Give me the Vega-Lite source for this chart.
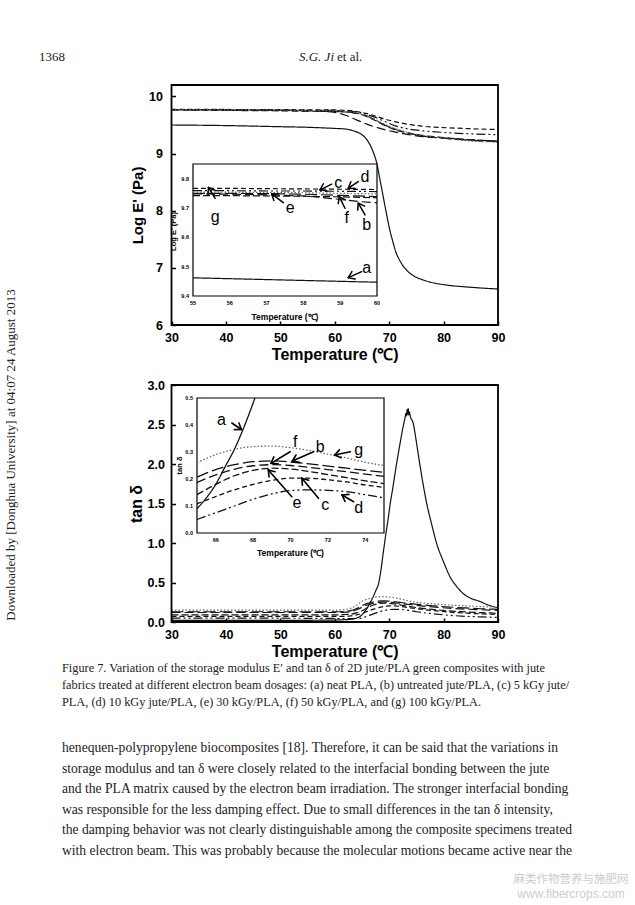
{
"$schema":"https://vega.github.io/schema/vega-lite/v6.json",
"width":635,"height":905,"autosize":"none","padding":0,"background":"white",
"config":{"view":{"stroke":null},"axis":{"grid":false,"domain":false,"tickColor":"black","labelColor":"black","titleColor":"black","labelFont":"Liberation Sans","titleFont":"Liberation Sans","labelFlush":false,"labelOverlap":false}},
"datasets":{
"E":[
{"s":"a","T":30,"v":9.50},{"s":"a","T":40,"v":9.49},{"s":"a","T":50,"v":9.47},{"s":"a","T":55,"v":9.46},{"s":"a","T":60,"v":9.44},{"s":"a","T":62,"v":9.43},{"s":"a","T":63,"v":9.41},{"s":"a","T":64,"v":9.38},{"s":"a","T":65,"v":9.33},{"s":"a","T":66,"v":9.23},{"s":"a","T":66.6,"v":9.13},{"s":"a","T":67.1,"v":9.02},{"s":"a","T":67.7,"v":8.84},{"s":"a","T":68.3,"v":8.55},{"s":"a","T":68.9,"v":8.25},{"s":"a","T":69.5,"v":7.95},{"s":"a","T":70.1,"v":7.67},{"s":"a","T":70.7,"v":7.45},{"s":"a","T":71.3,"v":7.26},{"s":"a","T":72,"v":7.12},{"s":"a","T":73.2,"v":6.96},{"s":"a","T":74.5,"v":6.86},{"s":"a","T":76.2,"v":6.79},{"s":"a","T":78,"v":6.74},{"s":"a","T":80.5,"v":6.70},{"s":"a","T":85,"v":6.66},{"s":"a","T":90,"v":6.63},
{"s":"b","T":30,"v":9.77},{"s":"b","T":40,"v":9.765},{"s":"b","T":50,"v":9.758},{"s":"b","T":55,"v":9.748},{"s":"b","T":58,"v":9.738},{"s":"b","T":60,"v":9.72},{"s":"b","T":62,"v":9.67},{"s":"b","T":64,"v":9.59},{"s":"b","T":66,"v":9.51},{"s":"b","T":68,"v":9.45},{"s":"b","T":70,"v":9.40},{"s":"b","T":72,"v":9.36},{"s":"b","T":75,"v":9.31},{"s":"b","T":80,"v":9.27},{"s":"b","T":85,"v":9.24},{"s":"b","T":90,"v":9.22},
{"s":"c","T":30,"v":9.775},{"s":"c","T":40,"v":9.772},{"s":"c","T":50,"v":9.769},{"s":"c","T":55,"v":9.766},{"s":"c","T":60,"v":9.763},{"s":"c","T":63,"v":9.75},{"s":"c","T":65,"v":9.72},{"s":"c","T":67,"v":9.67},{"s":"c","T":69,"v":9.61},{"s":"c","T":71,"v":9.56},{"s":"c","T":73,"v":9.52},{"s":"c","T":76,"v":9.48},{"s":"c","T":80,"v":9.455},{"s":"c","T":85,"v":9.435},{"s":"c","T":90,"v":9.42},
{"s":"d","T":30,"v":9.77},{"s":"d","T":40,"v":9.767},{"s":"d","T":50,"v":9.762},{"s":"d","T":55,"v":9.758},{"s":"d","T":60,"v":9.755},{"s":"d","T":63,"v":9.74},{"s":"d","T":65,"v":9.71},{"s":"d","T":67,"v":9.65},{"s":"d","T":69,"v":9.57},{"s":"d","T":71,"v":9.49},{"s":"d","T":73,"v":9.44},{"s":"d","T":76,"v":9.40},{"s":"d","T":80,"v":9.37},{"s":"d","T":85,"v":9.345},{"s":"d","T":90,"v":9.33},
{"s":"e","T":30,"v":9.765},{"s":"e","T":40,"v":9.755},{"s":"e","T":50,"v":9.748},{"s":"e","T":55,"v":9.742},{"s":"e","T":60,"v":9.736},{"s":"e","T":63,"v":9.72},{"s":"e","T":65,"v":9.68},{"s":"e","T":67,"v":9.60},{"s":"e","T":69,"v":9.50},{"s":"e","T":71,"v":9.42},{"s":"e","T":73,"v":9.37},{"s":"e","T":76,"v":9.32},{"s":"e","T":80,"v":9.28},{"s":"e","T":85,"v":9.24},{"s":"e","T":90,"v":9.22},
{"s":"f","T":30,"v":9.768},{"s":"f","T":40,"v":9.762},{"s":"f","T":50,"v":9.756},{"s":"f","T":55,"v":9.75},{"s":"f","T":60,"v":9.74},{"s":"f","T":63,"v":9.72},{"s":"f","T":65,"v":9.685},{"s":"f","T":67,"v":9.61},{"s":"f","T":69,"v":9.51},{"s":"f","T":71,"v":9.43},{"s":"f","T":73,"v":9.37},{"s":"f","T":76,"v":9.31},{"s":"f","T":80,"v":9.27},{"s":"f","T":85,"v":9.23},{"s":"f","T":90,"v":9.21},
{"s":"g","T":30,"v":9.77},{"s":"g","T":40,"v":9.765},{"s":"g","T":50,"v":9.76},{"s":"g","T":55,"v":9.753},{"s":"g","T":60,"v":9.748},{"s":"g","T":63,"v":9.73},{"s":"g","T":65,"v":9.69},{"s":"g","T":67,"v":9.62},{"s":"g","T":69,"v":9.52},{"s":"g","T":71,"v":9.44},{"s":"g","T":73,"v":9.38},{"s":"g","T":76,"v":9.32},{"s":"g","T":80,"v":9.27},{"s":"g","T":85,"v":9.22},{"s":"g","T":90,"v":9.20}
],
"Ein":[
{"s":"a","T":55,"v":9.462},{"s":"a","T":56,"v":9.459},{"s":"a","T":57,"v":9.456},{"s":"a","T":58,"v":9.453},{"s":"a","T":59,"v":9.450},{"s":"a","T":60,"v":9.447},
{"s":"b","T":55,"v":9.748},{"s":"b","T":56,"v":9.747},{"s":"b","T":57,"v":9.745},{"s":"b","T":58,"v":9.741},{"s":"b","T":58.5,"v":9.736},{"s":"b","T":59,"v":9.729},{"s":"b","T":59.5,"v":9.722},{"s":"b","T":60,"v":9.718},
{"s":"c","T":55,"v":9.767},{"s":"c","T":56,"v":9.767},{"s":"c","T":57,"v":9.766},{"s":"c","T":58,"v":9.765},{"s":"c","T":59,"v":9.764},{"s":"c","T":60,"v":9.763},
{"s":"d","T":55,"v":9.759},{"s":"d","T":56,"v":9.759},{"s":"d","T":57,"v":9.758},{"s":"d","T":58,"v":9.758},{"s":"d","T":59,"v":9.757},{"s":"d","T":60,"v":9.756},
{"s":"e","T":55,"v":9.742},{"s":"e","T":56,"v":9.742},{"s":"e","T":57,"v":9.741},{"s":"e","T":58,"v":9.740},{"s":"e","T":59,"v":9.738},{"s":"e","T":60,"v":9.735},
{"s":"f","T":55,"v":9.750},{"s":"f","T":56,"v":9.750},{"s":"f","T":57,"v":9.749},{"s":"f","T":58,"v":9.747},{"s":"f","T":59,"v":9.743},{"s":"f","T":60,"v":9.739},
{"s":"g","T":55,"v":9.754},{"s":"g","T":56,"v":9.754},{"s":"g","T":57,"v":9.753},{"s":"g","T":58,"v":9.752},{"s":"g","T":59,"v":9.750},{"s":"g","T":60,"v":9.748}
],
"tan":[
{"s":"a","T":30,"v":0.02},{"s":"a","T":40,"v":0.02},{"s":"a","T":50,"v":0.02},{"s":"a","T":60,"v":0.025},{"s":"a","T":62,"v":0.03},{"s":"a","T":63,"v":0.035},{"s":"a","T":64,"v":0.05},{"s":"a","T":65,"v":0.09},{"s":"a","T":65.5,"v":0.13},{"s":"a","T":66,"v":0.18},{"s":"a","T":66.5,"v":0.245},{"s":"a","T":67,"v":0.31},{"s":"a","T":67.5,"v":0.39},{"s":"a","T":68.1,"v":0.5},{"s":"a","T":68.5,"v":0.66},{"s":"a","T":68.9,"v":0.87},{"s":"a","T":69.3,"v":1.07},{"s":"a","T":69.8,"v":1.30},{"s":"a","T":70.2,"v":1.50},{"s":"a","T":70.7,"v":1.71},{"s":"a","T":71.4,"v":2.02},{"s":"a","T":72,"v":2.26},{"s":"a","T":72.5,"v":2.45},{"s":"a","T":72.9,"v":2.58},{"s":"a","T":73.1,"v":2.64},{"s":"a","T":73.2,"v":2.61},{"s":"a","T":73.3,"v":2.69},{"s":"a","T":73.4,"v":2.63},{"s":"a","T":73.5,"v":2.70},{"s":"a","T":73.6,"v":2.62},{"s":"a","T":73.7,"v":2.66},{"s":"a","T":73.9,"v":2.60},{"s":"a","T":74.4,"v":2.52},{"s":"a","T":75,"v":2.28},{"s":"a","T":75.6,"v":2.01},{"s":"a","T":76.2,"v":1.76},{"s":"a","T":76.9,"v":1.50},{"s":"a","T":77.8,"v":1.24},{"s":"a","T":78.7,"v":1.0},{"s":"a","T":80,"v":0.76},{"s":"a","T":81.2,"v":0.57},{"s":"a","T":82.4,"v":0.45},{"s":"a","T":83.6,"v":0.36},{"s":"a","T":85,"v":0.30},{"s":"a","T":86.7,"v":0.26},{"s":"a","T":88,"v":0.22},{"s":"a","T":90,"v":0.18},
{"s":"g","T":30,"v":0.15},{"s":"g","T":40,"v":0.15},{"s":"g","T":50,"v":0.15},{"s":"g","T":60,"v":0.15},{"s":"g","T":62,"v":0.16},{"s":"g","T":63,"v":0.175},{"s":"g","T":64,"v":0.21},{"s":"g","T":65,"v":0.26},{"s":"g","T":66,"v":0.29},{"s":"g","T":67,"v":0.31},{"s":"g","T":68,"v":0.32},{"s":"g","T":69,"v":0.322},{"s":"g","T":70,"v":0.316},{"s":"g","T":71,"v":0.306},{"s":"g","T":72,"v":0.292},{"s":"g","T":73,"v":0.278},{"s":"g","T":74,"v":0.262},{"s":"g","T":75,"v":0.25},{"s":"g","T":78,"v":0.23},{"s":"g","T":81,"v":0.215},{"s":"g","T":84,"v":0.205},{"s":"g","T":87,"v":0.195},{"s":"g","T":90,"v":0.19},
{"s":"f","T":30,"v":0.13},{"s":"f","T":40,"v":0.13},{"s":"f","T":50,"v":0.13},{"s":"f","T":60,"v":0.13},{"s":"f","T":62,"v":0.135},{"s":"f","T":63,"v":0.145},{"s":"f","T":64,"v":0.17},{"s":"f","T":65,"v":0.207},{"s":"f","T":66,"v":0.235},{"s":"f","T":67,"v":0.253},{"s":"f","T":68,"v":0.264},{"s":"f","T":69,"v":0.267},{"s":"f","T":70,"v":0.263},{"s":"f","T":71,"v":0.256},{"s":"f","T":72,"v":0.248},{"s":"f","T":73,"v":0.24},{"s":"f","T":74,"v":0.232},{"s":"f","T":75,"v":0.225},{"s":"f","T":78,"v":0.205},{"s":"f","T":81,"v":0.19},{"s":"f","T":84,"v":0.178},{"s":"f","T":87,"v":0.168},{"s":"f","T":90,"v":0.16},
{"s":"b","T":30,"v":0.12},{"s":"b","T":40,"v":0.12},{"s":"b","T":50,"v":0.12},{"s":"b","T":60,"v":0.12},{"s":"b","T":62,"v":0.125},{"s":"b","T":63,"v":0.132},{"s":"b","T":64,"v":0.155},{"s":"b","T":65,"v":0.187},{"s":"b","T":66,"v":0.215},{"s":"b","T":67,"v":0.236},{"s":"b","T":68,"v":0.249},{"s":"b","T":69,"v":0.253},{"s":"b","T":70,"v":0.25},{"s":"b","T":71,"v":0.243},{"s":"b","T":72,"v":0.235},{"s":"b","T":73,"v":0.227},{"s":"b","T":74,"v":0.218},{"s":"b","T":75,"v":0.21},{"s":"b","T":78,"v":0.19},{"s":"b","T":81,"v":0.175},{"s":"b","T":84,"v":0.163},{"s":"b","T":87,"v":0.155},{"s":"b","T":90,"v":0.148},
{"s":"e","T":30,"v":0.09},{"s":"e","T":40,"v":0.09},{"s":"e","T":50,"v":0.09},{"s":"e","T":60,"v":0.09},{"s":"e","T":62,"v":0.095},{"s":"e","T":63,"v":0.10},{"s":"e","T":64,"v":0.115},{"s":"e","T":65,"v":0.142},{"s":"e","T":66,"v":0.18},{"s":"e","T":67,"v":0.212},{"s":"e","T":68,"v":0.232},{"s":"e","T":69,"v":0.24},{"s":"e","T":70,"v":0.237},{"s":"e","T":71,"v":0.228},{"s":"e","T":72,"v":0.216},{"s":"e","T":73,"v":0.205},{"s":"e","T":74,"v":0.193},{"s":"e","T":75,"v":0.183},{"s":"e","T":78,"v":0.16},{"s":"e","T":81,"v":0.14},{"s":"e","T":84,"v":0.128},{"s":"e","T":87,"v":0.118},{"s":"e","T":90,"v":0.11},
{"s":"c","T":30,"v":0.07},{"s":"c","T":40,"v":0.07},{"s":"c","T":50,"v":0.07},{"s":"c","T":60,"v":0.07},{"s":"c","T":62,"v":0.072},{"s":"c","T":63,"v":0.078},{"s":"c","T":64,"v":0.09},{"s":"c","T":65,"v":0.108},{"s":"c","T":66,"v":0.135},{"s":"c","T":67,"v":0.16},{"s":"c","T":68,"v":0.18},{"s":"c","T":69,"v":0.195},{"s":"c","T":70,"v":0.203},{"s":"c","T":71,"v":0.203},{"s":"c","T":72,"v":0.197},{"s":"c","T":73,"v":0.189},{"s":"c","T":74,"v":0.178},{"s":"c","T":75,"v":0.169},{"s":"c","T":78,"v":0.145},{"s":"c","T":81,"v":0.125},{"s":"c","T":84,"v":0.112},{"s":"c","T":87,"v":0.103},{"s":"c","T":90,"v":0.095},
{"s":"d","T":30,"v":0.05},{"s":"d","T":40,"v":0.05},{"s":"d","T":50,"v":0.048},{"s":"d","T":60,"v":0.045},{"s":"d","T":62,"v":0.042},{"s":"d","T":63,"v":0.042},{"s":"d","T":64,"v":0.045},{"s":"d","T":65,"v":0.05},{"s":"d","T":66,"v":0.075},{"s":"d","T":67,"v":0.10},{"s":"d","T":68,"v":0.125},{"s":"d","T":69,"v":0.145},{"s":"d","T":70,"v":0.157},{"s":"d","T":71,"v":0.16},{"s":"d","T":72,"v":0.158},{"s":"d","T":73,"v":0.153},{"s":"d","T":74,"v":0.142},{"s":"d","T":75,"v":0.13},{"s":"d","T":78,"v":0.105},{"s":"d","T":81,"v":0.085},{"s":"d","T":84,"v":0.072},{"s":"d","T":87,"v":0.064},{"s":"d","T":90,"v":0.058}
],
"arrTop":[
{"x":55.60,"y":9.733,"x2":55.42,"y2":9.770},{"x":55.42,"y":9.770,"x2":55.407,"y2":9.7458},{"x":55.42,"y":9.770,"x2":55.591,"y2":9.7604},
{"x":57.454,"y":9.7184,"x2":57.139,"y2":9.748},{"x":57.139,"y":9.748,"x2":57.198,"y2":9.7254},{"x":57.139,"y":9.748,"x2":57.329,"y2":9.7474},
{"x":58.769,"y":9.7812,"x2":58.451,"y2":9.7618},{"x":58.451,"y":9.7618,"x2":58.639,"y2":9.758},{"x":58.451,"y":9.7618,"x2":58.543,"y2":9.7827},
{"x":59.492,"y":9.7901,"x2":59.220,"y2":9.7676},{"x":59.220,"y":9.7676,"x2":59.410,"y2":9.7669},{"x":59.220,"y":9.7676,"x2":59.290,"y2":9.7898},
{"x":59.130,"y":9.6993,"x2":58.976,"y2":9.7389},{"x":58.976,"y":9.7389,"x2":58.946,"y2":9.7153},{"x":58.976,"y":9.7389,"x2":59.142,"y2":9.7274},
{"x":59.674,"y":9.6765,"x2":59.492,"y2":9.7164},{"x":59.492,"y":9.7164,"x2":59.475,"y2":9.6926},{"x":59.492,"y":9.7164,"x2":59.664,"y2":9.7062},
{"x":59.584,"y":9.4829,"x2":59.220,"y2":9.4625},{"x":59.220,"y":9.4625,"x2":59.407,"y2":9.4580},{"x":59.220,"y":9.4625,"x2":59.318,"y2":9.4830}
],
"labTop":[
{"t":"g","T":55.60,"v":9.671},{"t":"e","T":57.64,"v":9.699},{"t":"c","T":58.95,"v":9.785},{"t":"d","T":59.67,"v":9.807},{"t":"f","T":59.18,"v":9.665},{"t":"b","T":59.72,"v":9.642},{"t":"a","T":59.72,"v":9.495}
],
"arrBot":[
{"x":66.864,"y":0.4074,"x2":67.374,"y2":0.3833},{"x":67.374,"y":0.3833,"x2":67.242,"y2":0.4076},{"x":67.374,"y":0.3833,"x2":66.998,"y2":0.3830},
{"x":69.979,"y":0.3011,"x2":68.958,"y2":0.2581},{"x":68.958,"y":0.2581,"x2":69.334,"y2":0.2565},{"x":68.958,"y":0.2581,"x2":69.109,"y2":0.2819},
{"x":71.230,"y":0.3011,"x2":70.102,"y2":0.2667},{"x":70.102,"y":0.2667,"x2":70.471,"y2":0.2617},{"x":70.102,"y":0.2667,"x2":70.296,"y2":0.2889},
{"x":73.201,"y":0.3011,"x2":72.358,"y2":0.2889},{"x":72.358,"y":0.2889,"x2":72.704,"y2":0.2787},{"x":72.358,"y":0.2889,"x2":72.615,"y2":0.3079},
{"x":70.070,"y":0.1344,"x2":68.813,"y2":0.2333},{"x":68.813,"y":0.2333,"x2":68.854,"y2":0.2076},{"x":68.813,"y":0.2333,"x2":69.178,"y2":0.2271},
{"x":71.498,"y":0.1285,"x2":70.607,"y2":0.2026},{"x":70.607,"y":0.2026,"x2":70.637,"y2":0.1767},{"x":70.607,"y":0.2026,"x2":70.970,"y2":0.1957},
{"x":73.378,"y":0.1159,"x2":72.755,"y2":0.1407},{"x":72.755,"y":0.1407,"x2":72.914,"y2":0.1172},{"x":72.755,"y":0.1407,"x2":73.129,"y2":0.1430}
],
"labBot":[
{"t":"a","T":66.31,"v":0.4185},{"t":"f","T":70.25,"v":0.338},{"t":"b","T":71.59,"v":0.3196},{"t":"g","T":73.65,"v":0.3074},{"t":"e","T":70.34,"v":0.11},{"t":"c","T":71.86,"v":0.1037},{"t":"d","T":73.65,"v":0.0915}
],
"caption":[
{"line":1,"t":"Figure 7.   Variation of the storage modulus E′ and tan δ of 2D jute/PLA green composites with jute"},
{"line":2,"t":"fabrics treated at different electron beam dosages: (a) neat PLA, (b) untreated jute/PLA, (c) 5 kGy jute/"},
{"line":3,"t":"PLA, (d) 10 kGy jute/PLA, (e) 30 kGy/PLA, (f) 50 kGy/PLA, and (g) 100 kGy/PLA."}
],
"body":[
{"line":1,"t":"henequen-polypropylene biocomposites [18]. Therefore, it can be said that the variations in"},
{"line":2,"t":"storage modulus and tan δ were closely related to the interfacial bonding between the jute"},
{"line":3,"t":"and the PLA matrix caused by the electron beam irradiation. The stronger interfacial bonding"},
{"line":4,"t":"was responsible for the less damping effect. Due to small differences in the tan δ intensity,"},
{"line":5,"t":"the damping behavior was not clearly distinguishable among the composite specimens treated"},
{"line":6,"t":"with electron beam. This was probably because the molecular motions became active near the"}
]
},
"layer":[
 {"data":{"name":"E"},
  "mark":{"type":"line","interpolate":"monotone","strokeWidth":1.2},
  "encoding":{
   "x":{"field":"T","type":"quantitative","scale":{"domain":[30,90],"range":[171.5,498]},
        "axis":{"orient":"bottom","offset":-580,"values":[30,40,50,60,70,80,90],"title":"Temperature (℃)","labelFontSize":12.5,"labelFontWeight":"bold","titleFontSize":16,"titleFontWeight":"bold","tickSize":-4,"tickWidth":1.5,"labelPadding":10,"titlePadding":3}},
   "y":{"field":"v","type":"quantitative","scale":{"domain":[6,10.2],"range":[325,85]},
        "axis":{"orient":"left","offset":-171.5,"values":[6,7,8,9,10],"title":"Log E' (Pa)","labelFontSize":12.5,"labelFontWeight":"bold","titleFontSize":15,"titleFontWeight":"bold","tickSize":-4,"tickWidth":1.5,"labelPadding":13,"titlePadding":3}},
   "strokeDash":{"field":"s","type":"nominal","legend":null,"scale":{"domain":["a","b","c","d","e","f","g"],"range":[[1,0],[9,4],[5,3],[9,3,2,3,2,3],[7,3],[12,4],[1.5,2]]}},
   "color":{"field":"s","type":"nominal","legend":null,"scale":{"domain":["a","b","c","d","e","f","g"],"range":["#111","#111","#111","#111","#111","#111","#666"]}}
  }},
 {"data":{"values":[{}]},
  "mark":{"type":"rect","filled":false,"stroke":"black","strokeWidth":1.8},
  "encoding":{"x":{"datum":30,"type":"quantitative","scale":{"domain":[30,90],"range":[171.5,498]},"axis":null},"x2":{"datum":90},"y":{"datum":6,"type":"quantitative","scale":{"domain":[6,10.2],"range":[325,85]},"axis":null},"y2":{"datum":10.2}}},
 {"data":{"values":[{}]},
  "mark":{"type":"rect","fill":"white","stroke":"black","strokeWidth":1.2},
  "encoding":{"x":{"datum":55,"type":"quantitative","scale":{"domain":[55,60],"range":[193,377]},"axis":null},"x2":{"datum":60},"y":{"datum":9.4,"type":"quantitative","scale":{"domain":[9.4,9.85],"range":[296,164]},"axis":null},"y2":{"datum":9.85}}},
 {"data":{"name":"Ein"},
  "mark":{"type":"line","strokeWidth":1.2},
  "encoding":{
   "x":{"field":"T","type":"quantitative","scale":{"domain":[55,60],"range":[193,377]},"axis":null},
   "y":{"field":"v","type":"quantitative","scale":{"domain":[9.4,9.85],"range":[296,164]},"axis":null},
   "strokeDash":{"field":"s","type":"nominal","legend":null,"scale":{"domain":["a","b","c","d","e","f","g"],"range":[[1,0],[9,4],[5,3],[9,3,2,3,2,3],[7,3],[12,4],[1.5,2]]}},
   "color":{"field":"s","type":"nominal","legend":null,"scale":{"domain":["a","b","c","d","e","f","g"],"range":["#111","#111","#111","#111","#111","#111","#666"]}}
  }},
 {"data":{"name":"arrTop"},
  "mark":{"type":"rule","color":"black","strokeWidth":1.5,"strokeCap":"round"},
  "encoding":{"x":{"field":"x","type":"quantitative","scale":{"domain":[55,60],"range":[193,377]},"axis":null},"y":{"field":"y","type":"quantitative","scale":{"domain":[9.4,9.85],"range":[296,164]},"axis":null},"x2":{"field":"x2"},"y2":{"field":"y2"}}},
 {"data":{"name":"labTop"},
  "mark":{"type":"text","font":"Liberation Sans","fontSize":16,"color":"black","align":"center","baseline":"middle"},
  "encoding":{"x":{"field":"T","type":"quantitative","scale":{"domain":[55,60],"range":[193,377]},"axis":null},"y":{"field":"v","type":"quantitative","scale":{"domain":[9.4,9.85],"range":[296,164]},"axis":null},"text":{"field":"t"}}},
 {"data":{"values":[{"T":55},{"T":56},{"T":57},{"T":58},{"T":59},{"T":60}]},
  "mark":{"type":"text","font":"Liberation Sans","fontSize":5.5,"fontWeight":"bold","color":"black","align":"center","baseline":"middle","dy":7},
  "encoding":{"x":{"field":"T","type":"quantitative","scale":{"domain":[55,60],"range":[193,377]},"axis":null},"y":{"datum":9.4,"type":"quantitative","scale":{"domain":[9.4,9.85],"range":[296,164]},"axis":null},"text":{"field":"T","type":"quantitative"}}},
 {"data":{"values":[{"v":9.4},{"v":9.5},{"v":9.6},{"v":9.7},{"v":9.8}]},
  "mark":{"type":"text","font":"Liberation Sans","fontSize":5.5,"fontWeight":"bold","color":"black","align":"right","baseline":"middle","dx":-4},
  "encoding":{"x":{"datum":55,"type":"quantitative","scale":{"domain":[55,60],"range":[193,377]},"axis":null},"y":{"field":"v","type":"quantitative","scale":{"domain":[9.4,9.85],"range":[296,164]},"axis":null},"text":{"field":"v","type":"quantitative","format":".1f"}}},
 {"data":{"values":[{"t":"Temperature (℃)"}]},
  "mark":{"type":"text","font":"Liberation Sans","fontSize":8.5,"fontWeight":"bold","color":"black","align":"center","baseline":"middle","dy":21},
  "encoding":{"x":{"datum":57.5,"type":"quantitative","scale":{"domain":[55,60],"range":[193,377]},"axis":null},"y":{"datum":9.4,"type":"quantitative","scale":{"domain":[9.4,9.85],"range":[296,164]},"axis":null},"text":{"field":"t"}}},
 {"data":{"values":[{"t":"Log E' (Pa)"}]},
  "mark":{"type":"text","font":"Liberation Sans","fontSize":7.5,"fontWeight":"bold","color":"black","align":"center","baseline":"middle","angle":270,"dy":-19},
  "encoding":{"x":{"datum":55,"type":"quantitative","scale":{"domain":[55,60],"range":[193,377]},"axis":null},"y":{"datum":9.62,"type":"quantitative","scale":{"domain":[9.4,9.85],"range":[296,164]},"axis":null},"text":{"field":"t"}}},
 {"data":{"name":"tan"},
  "mark":{"type":"line","interpolate":"monotone","strokeWidth":1.2},
  "encoding":{
   "x":{"field":"T","type":"quantitative","scale":{"domain":[30,90],"range":[171.5,498]},
        "axis":{"orient":"bottom","offset":-283,"values":[30,40,50,60,70,80,90],"title":"Temperature (℃)","labelFontSize":12.5,"labelFontWeight":"bold","titleFontSize":16,"titleFontWeight":"bold","tickSize":-4,"tickWidth":1.5,"labelPadding":10,"titlePadding":3}},
   "y":{"field":"v","type":"quantitative","scale":{"domain":[0,3],"range":[622,385]},
        "axis":{"orient":"left","offset":-171.5,"values":[0,0.5,1,1.5,2,2.5,3],"format":".1f","title":"tan δ","labelFontSize":12.5,"labelFontWeight":"bold","titleFontSize":16,"titleFontWeight":"bold","tickSize":-4,"tickWidth":1.5,"labelPadding":11,"titlePadding":3}},
   "strokeDash":{"field":"s","type":"nominal","legend":null,"scale":{"domain":["a","b","c","d","e","f","g"],"range":[[1,0],[9,4],[5,3],[9,3,2,3,2,3],[7,3],[12,4],[1.5,2]]}},
   "color":{"field":"s","type":"nominal","legend":null,"scale":{"domain":["a","b","c","d","e","f","g"],"range":["#111","#111","#111","#111","#111","#111","#666"]}}
  }},
 {"data":{"values":[{}]},
  "mark":{"type":"rect","filled":false,"stroke":"black","strokeWidth":1.8},
  "encoding":{"x":{"datum":30,"type":"quantitative","scale":{"domain":[30,90],"range":[171.5,498]},"axis":null},"x2":{"datum":90},"y":{"datum":0,"type":"quantitative","scale":{"domain":[0,3],"range":[622,385]},"axis":null},"y2":{"datum":3}}},
 {"data":{"values":[{}]},
  "mark":{"type":"rect","fill":"white","stroke":"black","strokeWidth":1.2},
  "encoding":{"x":{"datum":65,"type":"quantitative","scale":{"domain":[65,75],"range":[197,384]},"axis":null},"x2":{"datum":75},"y":{"datum":0,"type":"quantitative","scale":{"domain":[0,0.5],"range":[533,398]},"axis":null},"y2":{"datum":0.5}}},
 {"data":{"name":"tan"},
  "transform":[{"filter":"datum.T >= 65 && datum.T <= 75 && datum.v <= 0.5"}],
  "mark":{"type":"line","interpolate":"monotone","strokeWidth":1.3},
  "encoding":{
   "x":{"field":"T","type":"quantitative","scale":{"domain":[65,75],"range":[197,384]},"axis":null},
   "y":{"field":"v","type":"quantitative","scale":{"domain":[0,0.5],"range":[533,398]},"axis":null},
   "strokeDash":{"field":"s","type":"nominal","legend":null,"scale":{"domain":["a","b","c","d","e","f","g"],"range":[[1,0],[9,4],[5,3],[9,3,2,3,2,3],[7,3],[12,4],[1.5,2]]}},
   "color":{"field":"s","type":"nominal","legend":null,"scale":{"domain":["a","b","c","d","e","f","g"],"range":["#111","#111","#111","#111","#111","#111","#666"]}}
  }},
 {"data":{"name":"arrBot"},
  "mark":{"type":"rule","color":"black","strokeWidth":1.6,"strokeCap":"round"},
  "encoding":{"x":{"field":"x","type":"quantitative","scale":{"domain":[65,75],"range":[197,384]},"axis":null},"y":{"field":"y","type":"quantitative","scale":{"domain":[0,0.5],"range":[533,398]},"axis":null},"x2":{"field":"x2"},"y2":{"field":"y2"}}},
 {"data":{"name":"labBot"},
  "mark":{"type":"text","font":"Liberation Sans","fontSize":16,"color":"black","align":"center","baseline":"middle"},
  "encoding":{"x":{"field":"T","type":"quantitative","scale":{"domain":[65,75],"range":[197,384]},"axis":null},"y":{"field":"v","type":"quantitative","scale":{"domain":[0,0.5],"range":[533,398]},"axis":null},"text":{"field":"t"}}},
 {"data":{"values":[{"T":66},{"T":68},{"T":70},{"T":72},{"T":74}]},
  "mark":{"type":"text","font":"Liberation Sans","fontSize":5.5,"fontWeight":"bold","color":"black","align":"center","baseline":"middle","dy":7},
  "encoding":{"x":{"field":"T","type":"quantitative","scale":{"domain":[65,75],"range":[197,384]},"axis":null},"y":{"datum":0,"type":"quantitative","scale":{"domain":[0,0.5],"range":[533,398]},"axis":null},"text":{"field":"T","type":"quantitative"}}},
 {"data":{"values":[{"v":0},{"v":0.1},{"v":0.2},{"v":0.3},{"v":0.4},{"v":0.5}]},
  "mark":{"type":"text","font":"Liberation Sans","fontSize":5.5,"fontWeight":"bold","color":"black","align":"right","baseline":"middle","dx":-4},
  "encoding":{"x":{"datum":65,"type":"quantitative","scale":{"domain":[65,75],"range":[197,384]},"axis":null},"y":{"field":"v","type":"quantitative","scale":{"domain":[0,0.5],"range":[533,398]},"axis":null},"text":{"field":"v","type":"quantitative","format":".1f"}}},
 {"data":{"values":[{"t":"Temperature (℃)"}]},
  "mark":{"type":"text","font":"Liberation Sans","fontSize":8.5,"fontWeight":"bold","color":"black","align":"center","baseline":"middle","dy":20},
  "encoding":{"x":{"datum":70,"type":"quantitative","scale":{"domain":[65,75],"range":[197,384]},"axis":null},"y":{"datum":0,"type":"quantitative","scale":{"domain":[0,0.5],"range":[533,398]},"axis":null},"text":{"field":"t"}}},
 {"data":{"values":[{"t":"tan δ"}]},
  "mark":{"type":"text","font":"Liberation Sans","fontSize":7.5,"fontWeight":"bold","color":"black","align":"center","baseline":"middle","angle":270,"dy":-17},
  "encoding":{"x":{"datum":65,"type":"quantitative","scale":{"domain":[65,75],"range":[197,384]},"axis":null},"y":{"datum":0.25,"type":"quantitative","scale":{"domain":[0,0.5],"range":[533,398]},"axis":null},"text":{"field":"t"}}},
 {"data":{"values":[{"t":"1368"}]},"mark":{"type":"text","font":"Liberation Serif","fontSize":13,"align":"center","baseline":"middle","x":52,"y":57,"color":"#222"},"encoding":{"text":{"field":"t"}}},
 {"data":{"values":[{"t":"S.G. Ji"}]},"mark":{"type":"text","font":"Liberation Serif","fontStyle":"italic","fontSize":13,"align":"right","baseline":"middle","x":334,"y":57,"color":"#222"},"encoding":{"text":{"field":"t"}}},
 {"data":{"values":[{"t":"et al."}]},"mark":{"type":"text","font":"Liberation Serif","fontSize":13,"align":"left","baseline":"middle","x":337,"y":57,"color":"#222"},"encoding":{"text":{"field":"t"}}},
 {"data":{"values":[{"t":"Downloaded by [Donghua University] at 04:07 24 August 2013"}]},"mark":{"type":"text","font":"Liberation Serif","fontSize":13,"align":"center","baseline":"middle","angle":270,"x":11,"y":455,"color":"#222"},"encoding":{"text":{"field":"t"}}},
 {"data":{"name":"caption"},"mark":{"type":"text","font":"Liberation Serif","fontSize":12.3,"align":"left","baseline":"middle","x":62,"color":"#222"},
  "encoding":{"y":{"field":"line","type":"quantitative","scale":{"domain":[1,3],"range":[668,702]},"axis":null},"text":{"field":"t"}}},
 {"data":{"name":"body"},"mark":{"type":"text","font":"Liberation Serif","fontSize":13.6,"align":"left","baseline":"middle","x":62,"color":"#222"},
  "encoding":{"y":{"field":"line","type":"quantitative","scale":{"domain":[1,6],"range":[748,851]},"axis":null},"text":{"field":"t"}}},
 {"data":{"values":[{"t":"麻类作物营养与施肥网"}]},"mark":{"type":"text","font":"Noto Sans CJK SC","fontSize":11.5,"align":"center","baseline":"middle","x":571,"y":880,"color":"#cccccc"},"encoding":{"text":{"field":"t"}}},
 {"data":{"values":[{"t":"www.fibercrops.com"}]},"mark":{"type":"text","font":"Liberation Sans","fontSize":12,"align":"center","baseline":"middle","x":571,"y":894,"color":"#cccccc"},"encoding":{"text":{"field":"t"}}}
],
"resolve":{"scale":{"x":"independent","y":"independent","strokeDash":"independent","color":"independent"},"axis":{"x":"independent","y":"independent"}}
}
